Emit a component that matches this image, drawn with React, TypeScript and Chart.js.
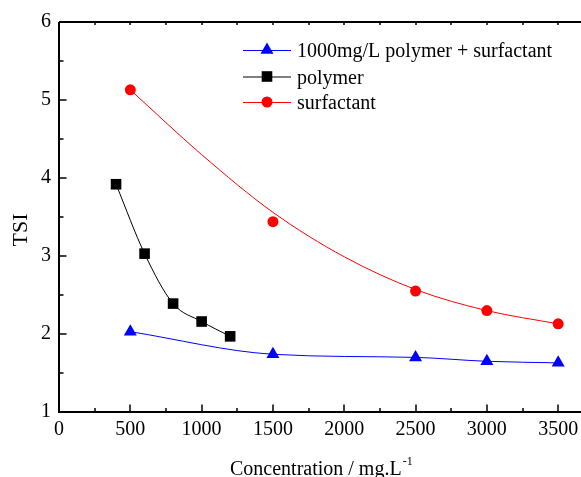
import React, { useEffect, useRef } from "react";
import { Chart, registerables } from "chart.js";

Chart.register(...registerables);

const blueX = [500, 1500, 2500, 3000, 3500];
const blueY = [2.03, 1.74, 1.7, 1.65, 1.63];
const polyX = [400, 600, 800, 1000, 1200];
const polyY = [3.92, 3.03, 2.39, 2.16, 1.97];
const surfX = [500, 1500, 2500, 3000, 3500];
const surfY = [5.13, 3.44, 2.55, 2.3, 2.13];
// red fitted curve
const surfFitX = [500, 1000, 1500, 2000, 2500, 3000, 3500];
const surfFitY = [5.13, 4.3, 3.56, 2.99, 2.57, 2.3, 2.13];

const xTickValues = [0, 500, 1000, 1500, 2000, 2500, 3000, 3500];
const yTickValues = [1, 2, 3, 4, 5, 6];
const legendLabels = ["1000mg/L polymer + surfactant", "polymer", "surfactant"];
const xTitle = "Concentration / mg.L";
const xTitleSup = "-1";
const yTitle = "TSI";

const FAMILY = "Liberation Serif";
const FONT = "'Liberation Serif', serif";
const BLUE = "#0000ff";
const RED = "#ff0000";
const BLACK = "#000000";

Chart.defaults.font.family = FAMILY;

const pts = (xs: number[], ys: number[]) => xs.map((x, i) => ({ x, y: ys[i] }));

function drawMarker(ctx: CanvasRenderingContext2D, kind: string, x: number, y: number, color: string) {
  ctx.save();
  ctx.fillStyle = color;
  ctx.beginPath();
  if (kind === "triangle") {
    const r = 7.5;
    ctx.moveTo(x, y - r);
    ctx.lineTo(x + r * Math.sin(Math.PI / 3), y + r / 2);
    ctx.lineTo(x - r * Math.sin(Math.PI / 3), y + r / 2);
    ctx.closePath();
  } else if (kind === "rect") {
    const s = 5.3;
    ctx.rect(x - s, y - s, 2 * s, 2 * s);
  } else {
    ctx.arc(x, y, 5.5, 0, Math.PI * 2);
  }
  ctx.fill();
  ctx.restore();
}

const framePlugin = {
  id: "frame",
  afterDraw(chart: any) {
    const { ctx, chartArea, scales } = chart;
    const xs = scales.x;
    const ys = scales.y;
    const L = chartArea.left;
    const R = chartArea.right;
    const T = chartArea.top;
    const B = chartArea.bottom;
    ctx.save();
    ctx.strokeStyle = BLACK;
    ctx.lineWidth = 2;
    ctx.beginPath();
    ctx.moveTo(L, T);
    ctx.lineTo(L, B);
    ctx.lineTo(R + 10, B);
    ctx.moveTo(L, T);
    ctx.lineTo(R + 10, T);
    ctx.stroke();
    // ticks (inward)
    ctx.lineWidth = 1.5;
    ctx.beginPath();
    for (let v = 0; v <= xs.max; v += 250) {
      const px = Math.round(xs.getPixelForValue(v));
      const major = v % 500 === 0;
      ctx.moveTo(px, B);
      ctx.lineTo(px, B - (major ? 7.5 : 4));
      ctx.moveTo(px, T);
      ctx.lineTo(px, T + 3);
    }
    for (let v = ys.min; v <= ys.max + 1e-6; v += 0.5) {
      const py = Math.round(ys.getPixelForValue(v));
      const major = Math.abs(v - Math.round(v)) < 1e-6;
      ctx.moveTo(L, py);
      ctx.lineTo(L + (major ? 7.5 : 4.5), py);
    }
    ctx.stroke();

    // legend
    const rows = [
      { y: 50, color: BLUE, kind: "triangle" },
      { y: 76.5, color: BLACK, kind: "rect" },
      { y: 102, color: RED, kind: "circle" },
    ];
    rows.forEach((r, i) => {
      ctx.strokeStyle = r.color;
      ctx.lineWidth = 1;
      ctx.beginPath();
      ctx.moveTo(243, r.y + 0.5);
      ctx.lineTo(291, r.y + 0.5);
      ctx.stroke();
      drawMarker(ctx, r.kind, 267, r.y, r.color);
      ctx.fillStyle = BLACK;
      ctx.font = `20px ${FONT}`;
      ctx.textBaseline = "alphabetic";
      ctx.textAlign = "left";
      ctx.fillText(legendLabels[i], 297, r.y + 7);
    });

    // x title
    ctx.font = `20px ${FONT}`;
    ctx.fillStyle = BLACK;
    ctx.textAlign = "left";
    ctx.textBaseline = "alphabetic";
    ctx.fillText(xTitle, 230, 475);
    const w = ctx.measureText(xTitle).width;
    ctx.font = `12px ${FONT}`;
    ctx.fillText(xTitleSup, 230 + w + 1, 465);

    // y title
    ctx.save();
    ctx.translate(27, 230);
    ctx.rotate(-Math.PI / 2);
    ctx.font = `22px ${FONT}`;
    ctx.textAlign = "center";
    ctx.fillText(yTitle, 0, 0);
    ctx.restore();
    ctx.restore();
  },
};

export default function App() {
  const ref = useRef<HTMLCanvasElement | null>(null);
  useEffect(() => {
    if (!ref.current) return;
    const chart = new Chart(ref.current, {
      type: "line",
      data: {
        datasets: [
          {
            label: legendLabels[0],
            data: pts(blueX, blueY),
            borderColor: BLUE,
            backgroundColor: BLUE,
            borderWidth: 1,
            cubicInterpolationMode: "monotone",
            pointStyle: "triangle",
            pointRadius: 7.5,
            pointBorderWidth: 0,
          },
          {
            label: legendLabels[1],
            data: pts(polyX, polyY),
            borderColor: BLACK,
            backgroundColor: BLACK,
            borderWidth: 1,
            cubicInterpolationMode: "monotone",
            pointStyle: "rect",
            pointRadius: 7.5,
            pointBorderWidth: 0,
          },
          {
            label: "surfactant fit",
            data: pts(surfFitX, surfFitY),
            borderColor: RED,
            borderWidth: 1,
            cubicInterpolationMode: "monotone",
            pointRadius: 0,
          },
          {
            label: legendLabels[2],
            data: pts(surfX, surfY),
            borderColor: RED,
            backgroundColor: RED,
            showLine: false,
            pointStyle: "circle",
            pointRadius: 5.5,
            pointBorderWidth: 0,
          },
        ],
      },
      options: {
        animation: false,
        responsive: false,
        events: [],
        layout: { autoPadding: false, padding: { top: 22, right: 0, left: 0, bottom: 0 } },
        plugins: { legend: { display: false }, tooltip: { enabled: false } },
        scales: {
          x: {
            type: "linear",
            min: 0,
            max: 3660,
            grid: { display: false, drawTicks: false },
            border: { display: false },
            afterBuildTicks: (s: any) => {
              s.ticks = xTickValues.map((v) => ({ value: v }));
            },
            ticks: {
              color: BLACK,
              padding: 0,
              maxRotation: 0,
              autoSkip: false,
              callback: (v: any) => String(v),
              font: { family: FAMILY, size: 20, lineHeight: 1.8 },
            },
            afterFit: (s: any) => {
              s.height = 65;
              s.paddingLeft = 0;
              s.paddingRight = 0;
            },
          },
          y: {
            min: 1,
            max: 6,
            grid: { display: false, drawTicks: false },
            border: { display: false },
            afterBuildTicks: (s: any) => {
              s.ticks = yTickValues.map((v) => ({ value: v }));
            },
            ticks: {
              color: BLACK,
              padding: 8,
              callback: (v: any) => String(v),
              font: { family: FAMILY, size: 20 },
            },
            afterFit: (s: any) => {
              s.width = 59;
              s.paddingTop = 0;
              s.paddingBottom = 0;
            },
          },
        },
      },
      plugins: [framePlugin],
    } as any);
    return () => chart.destroy();
  }, []);
  return (
    <div style={{ position: "fixed", left: 0, top: 0, width: 581, height: 477, background: "#fff", overflow: "hidden" }}>
      <canvas ref={ref} width={581} height={477} style={{ display: "block" }} />
    </div>
  );
}
